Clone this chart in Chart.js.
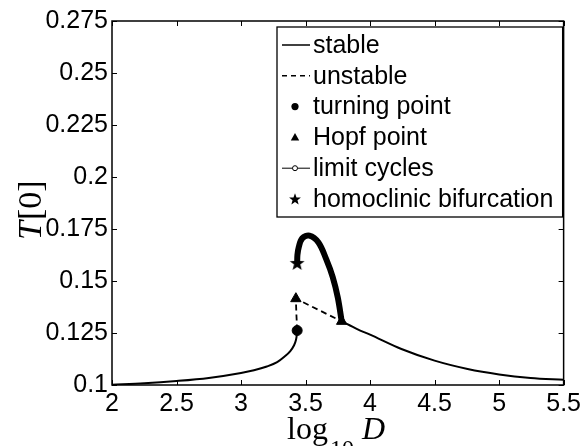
<!DOCTYPE html>
<html>
<head>
<meta charset="utf-8">
<script src="https://cdn.jsdelivr.net/npm/chart.js@4"></script>
<style>
  body { margin: 0; background: #fff; }
</style>
</head>
<body>
<canvas id="bifChart" width="585" height="446"></canvas>
<script>
// ---- data ----
const xTicks = [2, 2.5, 3, 3.5, 4, 4.5, 5, 5.5];
const yTicks = [0.1, 0.125, 0.15, 0.175, 0.2, 0.225, 0.25, 0.275];

// stable branch left of the fold
const stableLeftX = [2, 2.25, 2.5, 2.75, 3.0, 3.1, 3.2, 3.28, 3.34, 3.38, 3.41, 3.425, 3.432, 3.435];
const stableLeftY = [0.1001, 0.1008, 0.1019, 0.1034, 0.1058, 0.1071, 0.1089, 0.1110, 0.1138, 0.1162, 0.1190, 0.1215, 0.1240, 0.1262];

// stable branch right of the second Hopf point
const stableRightX = [3.78, 3.9, 4.0, 4.243, 4.5, 4.756, 5.0, 5.244, 5.5];
const stableRightY = [0.1306, 0.1269, 0.1242, 0.1173, 0.1117, 0.1077, 0.1051, 0.1034, 0.1025];

// unstable branch: fold -> Hopf 1 -> Hopf 2
const unstableX = [3.435, 3.429, 3.425, 3.78];
const unstableY = [0.1262, 0.1340, 0.1415, 0.1306];

// limit cycle branch from Hopf 2 to homoclinic point
const cycleX = [3.78, 3.75, 3.71, 3.66, 3.60, 3.53, 3.474, 3.447, 3.437, 3.435];
const cycleY = [0.1306, 0.1420, 0.1520, 0.1605, 0.1685, 0.1718, 0.1705, 0.1662, 0.1625, 0.1587];

const turningX = [3.435], turningY = [0.1262];
const hopfX = [3.425, 3.78], hopfY = [0.1415, 0.1306];
const homoX = [3.435], homoY = [0.1587];

const legendLabels = ["stable", "unstable", "turning point", "Hopf point", "limit cycles", "homoclinic bifurcation"];

const pts = (xs, ys) => xs.map((x, i) => ({ x: x, y: ys[i] }));
const SANS = "'Liberation Sans', Arial, Helvetica, sans-serif";
const SERIF = "'Liberation Serif', 'Times New Roman', serif";

function starPath(ctx, cx, cy, R) {
  const r = R * 0.42;
  ctx.beginPath();
  for (let i = 0; i < 10; i++) {
    const a = -Math.PI / 2 + i * Math.PI / 5;
    const rad = i % 2 === 0 ? R : r;
    ctx.lineTo(cx + rad * Math.cos(a), cy + rad * Math.sin(a));
  }
  ctx.closePath();
}

// star marker image for the homoclinic point
const starImg = document.createElement("canvas");
starImg.width = 16; starImg.height = 16;
(function () {
  const c = starImg.getContext("2d");
  c.fillStyle = "#000";
  starPath(c, 8, 8.6, 7.8);
  c.fill();
})();

// frame, inward ticks, axis titles and the legend box
const decorations = {
  id: "decorations",
  afterDraw(chart) {
    const ctx = chart.ctx;
    const a = chart.chartArea;
    const xs = chart.scales.x, ys = chart.scales.y;
    const tl = 5;
    ctx.save();
    ctx.strokeStyle = "#000";
    ctx.lineWidth = 1.5;
    ctx.strokeRect(a.left, a.top, a.right - a.left, a.bottom - a.top);
    ctx.lineWidth = 1;
    ctx.beginPath();
    xTicks.forEach(v => {
      const px = Math.round(xs.getPixelForValue(v)) + 0.5;
      ctx.moveTo(px, a.bottom); ctx.lineTo(px, a.bottom - tl);
      ctx.moveTo(px, a.top); ctx.lineTo(px, a.top + tl);
    });
    yTicks.forEach(v => {
      const py = Math.round(ys.getPixelForValue(v)) + 0.5;
      ctx.moveTo(a.left, py); ctx.lineTo(a.left + tl, py);
      ctx.moveTo(a.right, py); ctx.lineTo(a.right - tl, py);
    });
    ctx.stroke();

    // x title: log_10 D
    ctx.fillStyle = "#000";
    ctx.textBaseline = "alphabetic";
    ctx.textAlign = "left";
    ctx.font = "32px " + SERIF;
    ctx.fillText("log", 287, 439);
    ctx.font = "24px " + SERIF;
    ctx.fillText("10", 330, 456);
    ctx.font = "italic 32px " + SERIF;
    ctx.fillText("D", 362, 439);

    // y title: T[0]
    ctx.save();
    ctx.translate(41, 240);
    ctx.rotate(-Math.PI / 2);
    ctx.font = "italic 34px " + SERIF;
    ctx.fillText("T", 0, 0);
    const w = ctx.measureText("T").width;
    ctx.font = "34px " + SERIF;
    ctx.fillText("[0]", w + 1, 0);
    ctx.restore();

    // legend
    const bx = 277, by = 27, bw = a.right - 1 - bx, bh = 190;
    ctx.fillStyle = "#fff";
    ctx.fillRect(bx, by, bw, bh);
    ctx.lineWidth = 1.3;
    ctx.strokeRect(bx, by, bw, bh);
    const sx0 = 282, sx1 = 310, scx = 295, tx = 313;
    ctx.font = "25px " + SANS;
    ctx.textBaseline = "middle";
    legendLabels.forEach((lab, i) => {
      const y = 45 + i * 30.8;
      ctx.fillStyle = "#000";
      ctx.strokeStyle = "#000";
      ctx.lineWidth = 1.5;
      ctx.setLineDash([]);
      if (i === 0) {
        ctx.beginPath(); ctx.moveTo(sx0, y); ctx.lineTo(sx1, y); ctx.stroke();
      } else if (i === 1) {
        ctx.setLineDash([5, 4]);
        ctx.beginPath(); ctx.moveTo(sx0, y); ctx.lineTo(sx1, y); ctx.stroke();
        ctx.setLineDash([]);
      } else if (i === 2) {
        ctx.beginPath(); ctx.arc(scx, y, 3.6, 0, Math.PI * 2); ctx.fill();
      } else if (i === 3) {
        ctx.beginPath();
        ctx.moveTo(scx, y - 4.5); ctx.lineTo(scx + 4.2, y + 3); ctx.lineTo(scx - 4.2, y + 3);
        ctx.closePath(); ctx.fill();
      } else if (i === 4) {
        ctx.lineWidth = 1;
        ctx.beginPath(); ctx.moveTo(sx0, y); ctx.lineTo(scx - 2.5, y);
        ctx.moveTo(scx + 2.5, y); ctx.lineTo(sx1, y); ctx.stroke();
        ctx.beginPath(); ctx.arc(scx, y, 2.5, 0, Math.PI * 2); ctx.stroke();
      } else {
        starPath(ctx, scx, y + 0.5, 6.2); ctx.fill();
      }
      ctx.fillText(lab, tx, y + 1);
    });
    ctx.restore();
  }
};

const tickFont = { family: SANS, size: 25 };

new Chart(document.getElementById("bifChart"), {
  type: "scatter",
  data: {
    datasets: [
      {
        label: "turning point",
        data: pts(turningX, turningY),
        pointStyle: "circle",
        pointRadius: 5,
        backgroundColor: "#000",
        borderColor: "#000",
        order: 0,
      },
      {
        label: "Hopf point",
        data: pts(hopfX, hopfY),
        pointStyle: "triangle",
        pointRadius: 6,
        backgroundColor: "#000",
        borderColor: "#000",
        order: 0,
      },
      {
        label: "homoclinic bifurcation",
        data: pts(homoX, homoY),
        pointStyle: starImg,
        order: 0,
      },
      {
        label: "limit cycles",
        data: pts(cycleX, cycleY),
        showLine: true,
        borderColor: "#000",
        borderWidth: 6,
        tension: 0.35,
        pointRadius: 0,
        order: 1,
      },
      {
        label: "unstable",
        data: pts(unstableX, unstableY),
        showLine: true,
        borderColor: "#000",
        borderWidth: 1.8,
        borderDash: [6, 4],
        tension: 0,
        pointRadius: 0,
        order: 2,
      },
      {
        label: "stable",
        data: pts(stableLeftX, stableLeftY),
        showLine: true,
        borderColor: "#000",
        borderWidth: 2,
        cubicInterpolationMode: "monotone",
        pointRadius: 0,
        order: 2,
      },
      {
        label: "stable right",
        data: pts(stableRightX, stableRightY),
        showLine: true,
        borderColor: "#000",
        borderWidth: 2,
        cubicInterpolationMode: "monotone",
        pointRadius: 0,
        order: 2,
      },
    ],
  },
  options: {
    responsive: false,
    animation: false,
    layout: { padding: { top: 21, right: 18, left: 0, bottom: 0 } },
    scales: {
      x: {
        type: "linear",
        min: 2,
        max: 5.5,
        afterBuildTicks: s => { s.ticks = xTicks.map(v => ({ value: v })); },
        afterFit: s => { s.height = 61; },
        grid: { display: false, drawTicks: false },
        border: { display: false },
        ticks: { font: tickFont, color: "#000", padding: 4, maxRotation: 0, autoSkip: false, callback: v => String(v) },
      },
      y: {
        type: "linear",
        min: 0.1,
        max: 0.275,
        afterBuildTicks: s => { s.ticks = yTicks.map(v => ({ value: v })); },
        afterFit: s => { s.width = 112; },
        grid: { display: false, drawTicks: false },
        border: { display: false },
        ticks: { font: tickFont, color: "#000", padding: 4, autoSkip: false, callback: v => String(v) },
      },
    },
    plugins: {
      legend: { display: false },
      tooltip: { enabled: false },
    },
  },
  plugins: [decorations],
});
</script>
</body>
</html>
